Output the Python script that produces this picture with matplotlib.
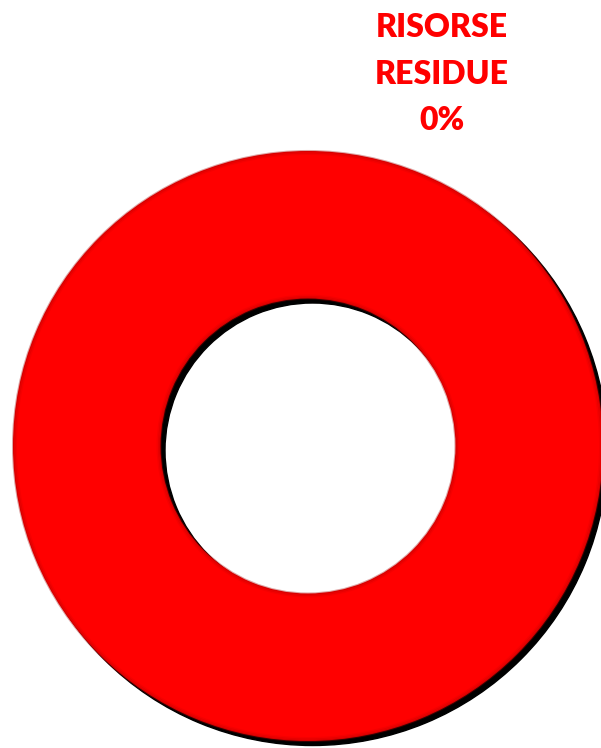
import matplotlib
matplotlib.use("Agg")

import matplotlib.pyplot as plt

# ── Data ──────────────────────────────────────────────────────────────────────
labels = ["Risorse utilizzate", "Risorse residue"]
values = [100, 0]
residue_pct = 0
title_lines = ["RISORSE", "RESIDUE", f"{residue_pct}%"]

RED = "#ff0000"
WHITE = "#ffffff"

fig = plt.figure(figsize=(6.01, 7.48), dpi=100, facecolor=WHITE)
ax = fig.add_axes([13 / 601, 7 / 748, 590 / 601, 590 / 748])
ax.set_aspect("equal")
ax.axis("off")

wedges, _ = ax.pie(
    values, colors=[RED, WHITE], startangle=90, counterclock=False,
    radius=1.0, wedgeprops=dict(width=0.5, edgecolor="none"),
    shadow=dict(ox=0.011, oy=-0.011, shade=1.0, alpha=1.0),
)
for p in ax.patches:
    p.set_clip_on(False)

# soft bevel on the ring edges
for r, a in [(1.0, 0.35), (0.995, 0.2), (0.99, 0.1),
             (0.5, 0.35), (0.505, 0.2), (0.51, 0.1)]:
    ring = plt.Circle((0, 0), r, fill=False, edgecolor="#a00000",
                      linewidth=1.5, alpha=a, clip_on=False)
    ax.add_patch(ring)

ax.set_xlim(-1, 1)
ax.set_ylim(-1, 1)

fig.text(442 / 601, 1 - 74 / 748, "\n".join(title_lines),
         ha="center", va="center", color=RED, fontsize=23,
         fontweight="heavy", family=["Lato", "DejaVu Sans"], linespacing=1.72)

fig.savefig("out.png", dpi=100, facecolor=WHITE)
